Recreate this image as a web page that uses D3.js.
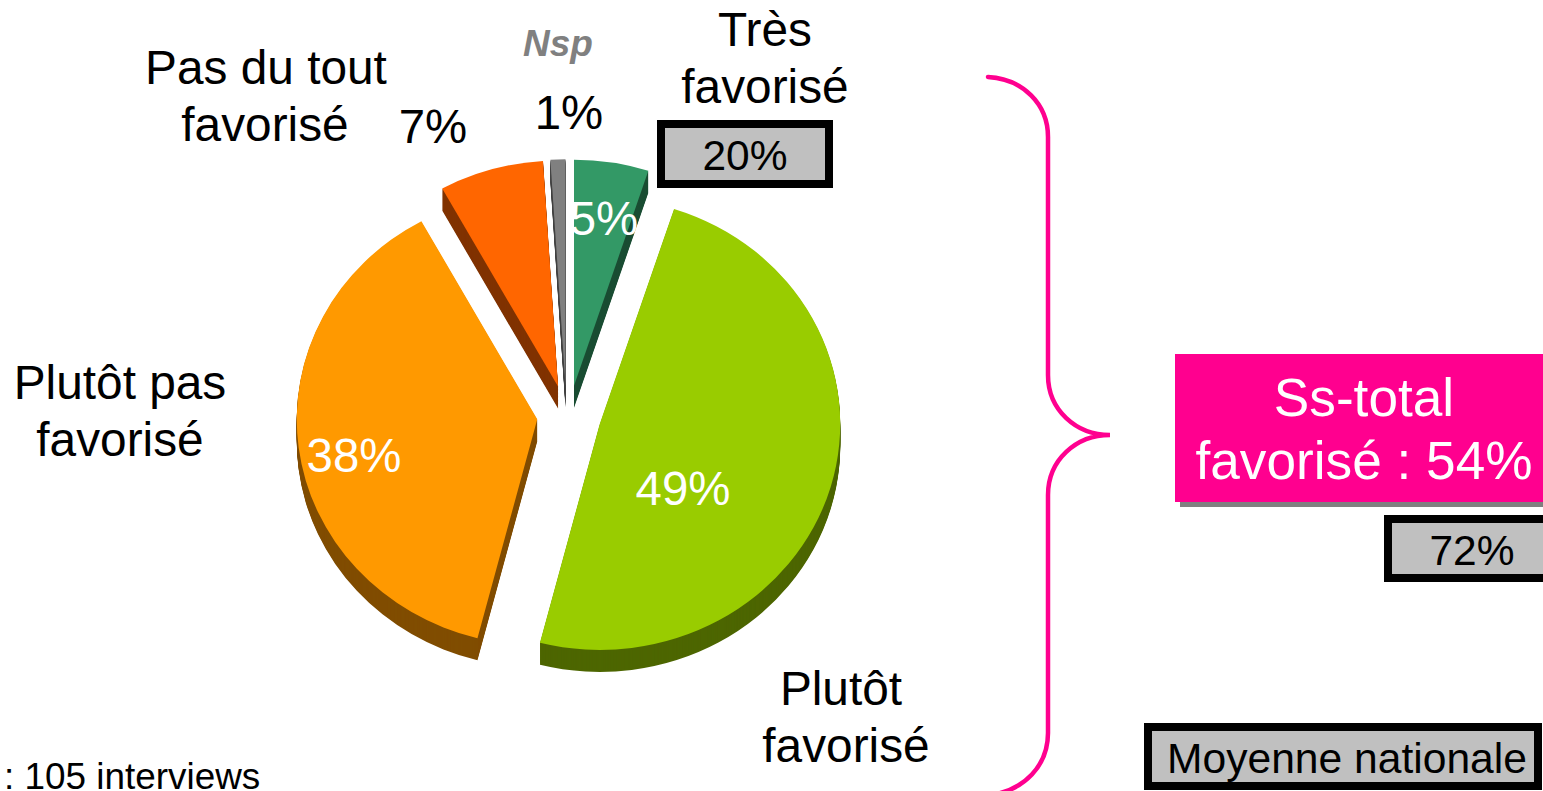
<!DOCTYPE html>
<html>
<head>
<meta charset="utf-8">
<script src="https://cdn.jsdelivr.net/npm/d3@7"></script>
<style>
  html, body { margin: 0; background: #fff; overflow: hidden; }
  svg { display: block; }
  text { font-family: "Liberation Sans", Arial, sans-serif; }
</style>
</head>
<body>
<script>
// pie data, clockwise from 12 o'clock
const categories = ["Très favorisé", "Plutôt favorisé", "Plutôt pas favorisé", "Pas du tout favorisé", "Nsp"]
const values = [5, 49, 38, 7, 1]
const nationalValue = 20
const subtotalValue = 54
const nationalSubtotal = 72
const sampleSize = 105

const colors = ["#339966", "#99cc00", "#ff9900", "#ff6600", "#808080"]
const sideColors = ["#1a4d33", "#4d6600", "#804d00", "#803300", "#404040"]

const w = 1543
const h = 791
const cx = 569
const cy = 415.5
const radius = 240.5
const squash = 0.94
const explode = 32
const nudgeX = [0, 0, 0, -2, -2.5] // the two small slices sit a bit further left
const depth = 22
const pink = "#ff008f"

const svg = d3.select("body")
  .append("svg")
  .attr("width", w)
  .attr("height", h)

const pie = d3.pie().sort(null)
const arc = d3.arc().innerRadius(0).outerRadius(radius)
const slices = pie(values)

// every slice is pushed out along its own middle angle
const shift = d => {
  const mid = (d.startAngle + d.endAngle) / 2
  return [explode * Math.sin(mid) + nudgeX[d.index], -explode * Math.cos(mid) * squash]
}
const place = (d, down) => {
  const s = shift(d)
  return `translate(${cx + s[0]},${cy + s[1] + down}) scale(1,${squash})`
}

// 3d side: same slice repeated downwards in the dark colour
d3.range(depth, 0, -1).forEach(k => {
  svg.append("g").selectAll("path")
    .data(slices)
    .enter()
    .append("path")
    .attr("d", arc)
    .attr("transform", d => place(d, k))
    .attr("fill", (d, i) => sideColors[i])
})

svg.append("g").selectAll("path")
  .data(slices)
  .enter()
  .append("path")
  .attr("d", arc)
  .attr("transform", d => place(d, 0))
  .attr("fill", (d, i) => colors[i])

function label(str, x, y, size, fill, anchor) {
  return svg.append("text")
    .attr("x", x)
    .attr("y", y)
    .attr("text-anchor", anchor || "middle")
    .attr("font-size", size)
    .attr("fill", fill || "#000")
    .text(str)
}

function box(x, y, bw, bh) {
  svg.append("rect")
    .attr("x", x + 4)
    .attr("y", y + 4)
    .attr("width", bw - 8)
    .attr("height", bh - 8)
    .attr("fill", "#c0c0c0")
    .attr("stroke", "#000")
    .attr("stroke-width", 8)
}

// percentage labels, same order as values
const pctPos = [[604, 235, "#fff"], [683, 505, "#fff"], [354, 472, "#fff"], [433, 143, "#000"], [569, 129, "#000"]]
values.forEach((v, i) => label(v + "%", pctPos[i][0], pctPos[i][1], 47.4, pctPos[i][2]))

// category names, split on two lines
label("Très", 765, 46, 47.8)
label("favorisé", 765, 103, 47.8)
label("Plutôt", 841, 705, 47.8)
label("favorisé", 846, 762, 47.8)
label("Plutôt pas", 120, 399, 47.8)
label("favorisé", 120, 456, 47.8)
label("Pas du tout", 266, 84, 47.8)
label("favorisé", 265, 141, 47.8)
label(categories[4], 558, 56, 37, "#808080")
  .attr("font-weight", "bold")
  .attr("font-style", "italic")

box(657, 120, 176, 68)
label(nationalValue + "%", 745, 170, 42.5)

label(`: ${sampleSize} interviews`, 4, 789, 36.9, "#000", "start")

// brace
svg.append("path")
  .attr("d", "M988,77 C1023,79 1048,104 1048,137 L1048,375 C1048,410 1076,435 1110,435 C1076,435 1048,460 1048,495 L1048,733 C1048,766 1024,790 991,795")
  .attr("fill", "none")
  .attr("stroke", pink)
  .attr("stroke-width", 4.5)
  .attr("stroke-linecap", "round")

// subtotal block
svg.append("rect").attr("x", 1180).attr("y", 359).attr("width", 370).attr("height", 148).attr("fill", "#808080")
svg.append("rect").attr("x", 1175).attr("y", 354).attr("width", 370).attr("height", 148).attr("fill", pink)
label("Ss-total", 1364, 416, 53.2, "#fff")
label(`favorisé : ${subtotalValue}%`, 1364, 479, 53.2, "#fff")

box(1384, 515, 170, 67)
label(nationalSubtotal + "%", 1472, 565, 42.5)

box(1144, 723, 398, 67)
label("Moyenne nationale", 1347, 773, 42.6)
</script>
</body>
</html>
